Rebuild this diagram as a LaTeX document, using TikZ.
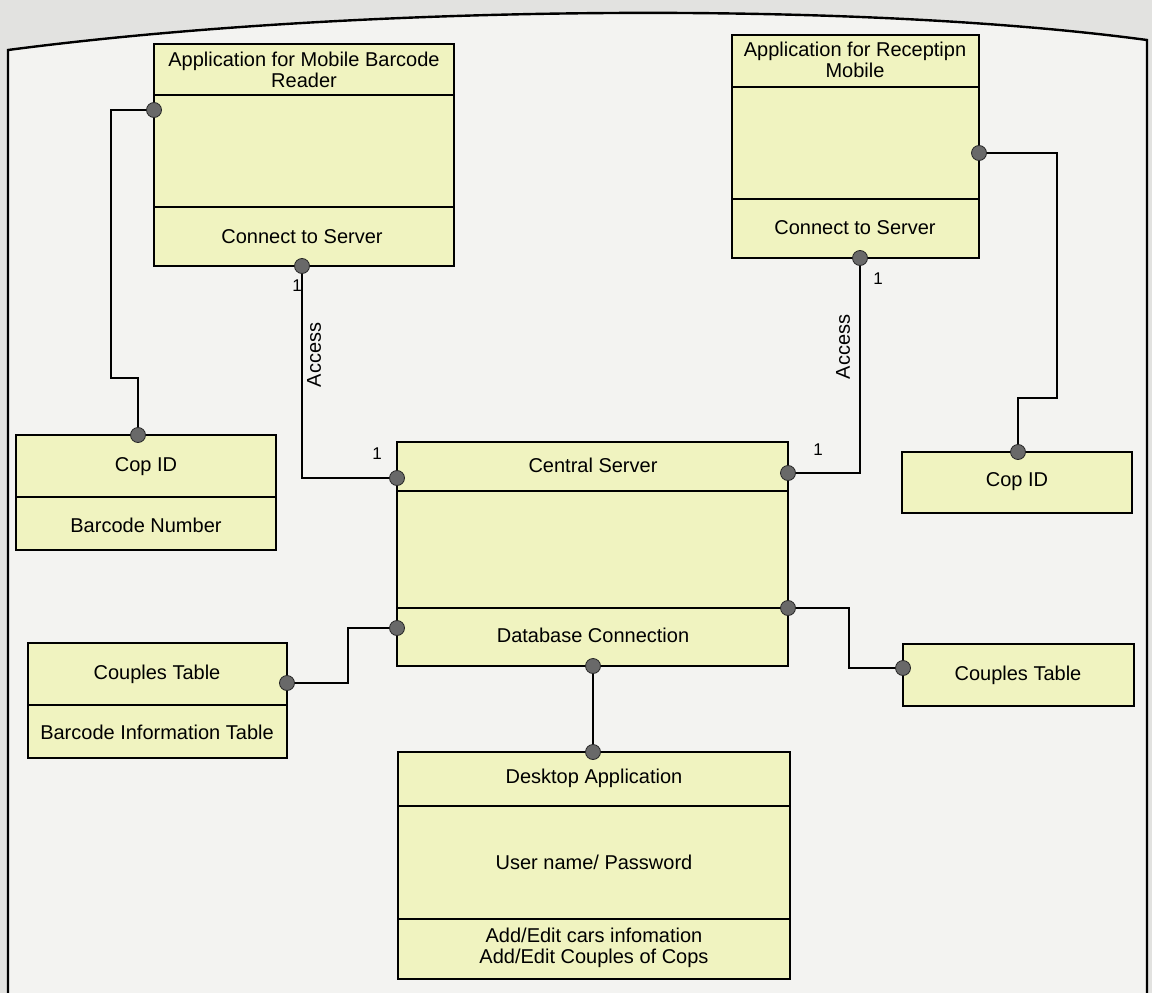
\documentclass[tikz,border=0pt]{standalone}
\usepackage{fontspec}
\setmainfont{Liberation Sans}
\usetikzlibrary{fit}
\definecolor{boxfill}{RGB}{240,243,192}
\definecolor{dotgray}{RGB}{105,105,105}
\definecolor{paper}{RGB}{243,243,241}
\definecolor{outside}{RGB}{226,226,224}
\begin{document}
\begin{tikzpicture}[x=1pt,y=-1pt,
  box/.style={draw=black, line width=2.4pt, fill=boxfill, rectangle, inner sep=0pt},
  lbl/.style={font=\fontsize{20}{21}\selectfont, align=center, inner sep=0pt},
  mult/.style={font=\fontsize{17}{19}\selectfont, inner sep=0pt},
  conn/.style={draw=black, line width=2.4pt},
  divider/.style={draw=black, line width=2.4pt},
  dotnode/.style={circle, fill=dotgray, draw=black!85, line width=0.8pt, minimum size=15pt, inner sep=0pt}]
\useasboundingbox (0,0) rectangle (1152,993);
% paper and frame
\fill[outside] (0,0) rectangle (1152,993);
\fill[paper] (8,993) -- (8,50) .. controls (350,5) and (850,0) .. (1147,40) -- (1147,993) -- cycle;
\draw[line width=2.4pt] (8,993) -- (8,50) .. controls (350,5) and (850,0) .. (1147,40) -- (1147,993);

% boxes
\node[box, fit={(154,44) (454,266)}] (mb) {};
\node[box, fit={(732,35) (979,258)}] (rm) {};
\node[box, fit={(16,435) (276,550)}] (copL) {};
\node[box, fit={(28,643) (287,758)}] (cplL) {};
\node[box, fit={(397,442) (788,666)}] (srv) {};
\node[box, fit={(902,452) (1132,513)}] (copR) {};
\node[box, fit={(903,644) (1134,706)}] (cplR) {};
\node[box, fit={(398,752) (790,979)}] (desk) {};

% compartment dividers
\draw[divider] (154,95) -- (454,95);
\draw[divider] (154,207) -- (454,207);
\draw[divider] (732,87) -- (979,87);
\draw[divider] (732,199) -- (979,199);
\draw[divider] (16,497) -- (276,497);
\draw[divider] (28,705) -- (287,705);
\draw[divider] (397,491) -- (788,491);
\draw[divider] (397,608) -- (788,608);
\draw[divider] (398,806) -- (790,806);
\draw[divider] (398,919) -- (790,919);

% texts
\node[lbl] (mbT) at (304,70) {Application for Mobile Barcode\\Reader};
\node[lbl] (mbC) at (302,237) {Connect to Server};
\node[lbl] (rmT) at (855,60) {Application for Receptipn\\Mobile};
\node[lbl] (rmC) at (855,228) {Connect to Server};
\node[lbl] (copLT) at (146,467) {Cop ID};
\node[lbl] (copLB) at (146,525) {Barcode Number};
\node[lbl] (cplLT) at (157,674) {Couples Table};
\node[lbl] (cplLB) at (157,732) {Barcode Information Table};
\node[lbl] (srvT) at (593,465) {Central Server};
\node[lbl] (srvB) at (593,635) {Database Connection};
\node[lbl] (copRT) at (1017,482) {Cop ID};
\node[lbl] (cplRT) at (1018,675) {Couples Table};
\node[lbl] (deskT) at (594,778) {Desktop Application};
\node[lbl] (deskM) at (594,862) {User name/ Password};
\node[lbl] (deskB) at (594,948) {Add/Edit cars infomation\\Add/Edit Couples of Cops};

% connection points
\coordinate (pMbL) at (154,110);
\coordinate (pMbB) at (302,266);
\coordinate (pRmR) at (979,153);
\coordinate (pRmB) at (860,258);
\coordinate (pCopL) at (138,435);
\coordinate (pCopR) at (1018,452);
\coordinate (pCplL) at (287,683);
\coordinate (pCplR) at (903,668);
\coordinate (pSrvLT) at (397,478);
\coordinate (pSrvLB) at (397,628);
\coordinate (pSrvRT) at (788,473);
\coordinate (pSrvRB) at (788,608);
\coordinate (pSrvB) at (593,666);
\coordinate (pDesk) at (593,752);

% connectors
\draw[conn] (pMbL) -| (111,378) -| (pCopL);
\draw[conn] (pMbB) |- (pSrvLT);
\draw[conn] (pRmB) |- (pSrvRT);
\draw[conn] (pRmR) -| (1057,398) -| (pCopR);
\draw[conn] (pCplL) -| (348,628) -- (pSrvLB);
\draw[conn] (pSrvRB) -| (849,668) -- (pCplR);
\draw[conn] (pSrvB) -- (pDesk);

% dots
\foreach \p in {pMbL,pMbB,pRmR,pRmB,pCopL,pCopR,pCplL,pCplR,pSrvLT,pSrvLB,pSrvRT,pSrvRB,pSrvB,pDesk}
  \node[dotnode] (d\p) at (\p) {};

% labels
\node[lbl, rotate=90] (accL) at (314,355) {Access};
\node[lbl, rotate=90] (accR) at (843,347) {Access};
\node[mult] (m1) at (297,286) {1};
\node[mult] (m2) at (377,454) {1};
\node[mult] (m3) at (878,279) {1};
\node[mult] (m4) at (818,450) {1};
\end{tikzpicture}
\end{document}
